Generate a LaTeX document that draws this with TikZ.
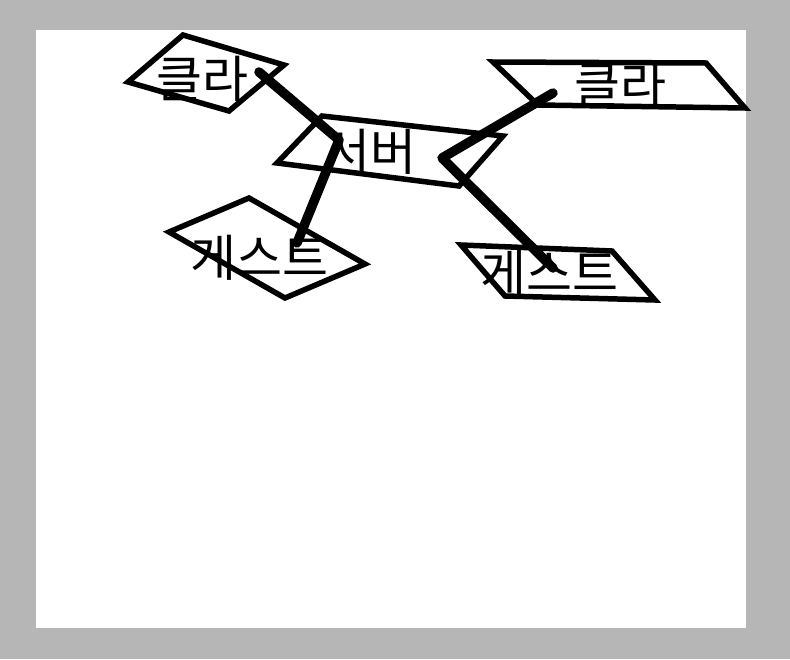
\documentclass[tikz,border=0pt]{standalone}
\usepackage{fontspec}
\newfontfamily\kofont{Noto Sans CJK KR}
\usepackage{tikz}
\usetikzlibrary{calc}
\definecolor{bordgris}{HTML}{B5B6B5}

\begin{document}
\begin{tikzpicture}[x=1pt, y=-1pt,
  boite/.style={line width=5.5pt, fill=white},
  lien/.style={line width=9.5pt, line cap=round, line join=round},
  mot/.style={font=\kofont\fontsize{50}{54}\selectfont, inner sep=0pt}]
  % Fond
  \fill[bordgris] (0,0) rectangle (790,659);
  \fill[white] (36,30) rectangle (746,628);
  \useasboundingbox (0,0) rectangle (790,659);

  % Clients
  \draw[boite] (128,82) -- (183,35) -- (284,65) -- (229,111) -- cycle;
  \node[mot] (klaA) at (202,79) {클라};
  \draw[boite] (493,62) -- (706,63) -- (745,108) -- (538,105) -- cycle;
  \node[mot] (klaB) at (620,85) {클라};

  % Serveur
  \draw[boite] (277,163) -- (322,116) -- (503,136) -- (459,186) -- cycle;
  \node[mot] (srv) at (370,152) {서버};

  % Invites
  \draw[boite] (169,232) -- (249,198) -- (365,264) -- (285,298) -- cycle;
  \node[mot] (gstA) at (259,258) {게스트};
  \draw[boite] (461,245) -- (612,251) -- (655,300) -- (505,296) -- cycle;
  \node[mot] (gstB) at (549,273) {게스트};

  % Liens
  \coordinate (kA) at (259,72);
  \coordinate (sA) at (339,140);
  \coordinate (gA) at (297,243);
  \coordinate (kB) at (553,93);
  \coordinate (sB) at (442,158);
  \coordinate (gB) at (553,268);
  \draw[lien] (kA) -- (sA) -- (gA);
  \draw[lien] (kB) -- (sB) -- (gB);
\end{tikzpicture}
\end{document}
